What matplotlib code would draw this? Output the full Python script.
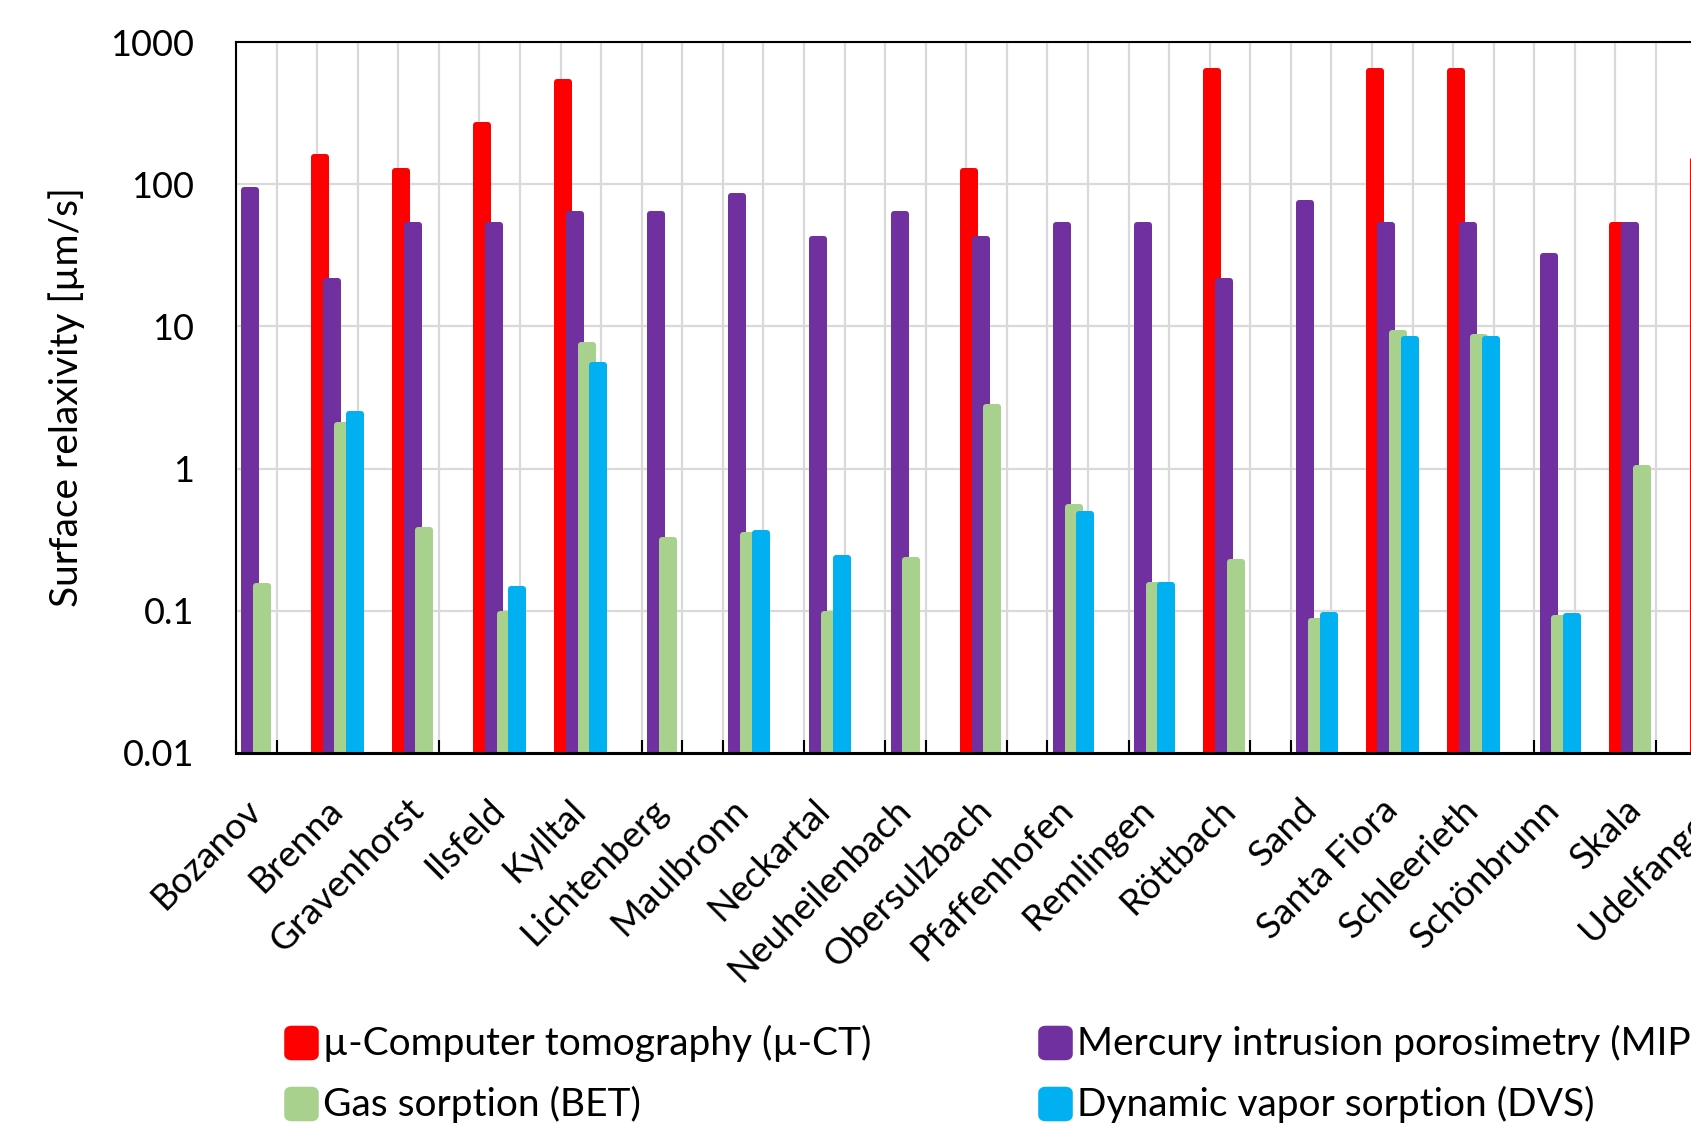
import numpy as np
import matplotlib
matplotlib.use("Agg")
import matplotlib.pyplot as plt
from matplotlib.patches import FancyBboxPatch
from matplotlib.ticker import FixedLocator, NullLocator

plt.rcParams['font.family'] = ['Lato', 'DejaVu Sans']

nan = np.nan
categories = ["Bozanov", "Brenna", "Gravenhorst", "Ilsfeld", "Kylltal", "Lichtenberg",
              "Maulbronn", "Neckartal", "Neuheilenbach", "Obersulzbach", "Pfaffenhofen",
              "Remlingen", "Röttbach", "Sand", "Santa Fiora", "Schleerieth", "Schönbrunn",
              "Skala", "Udelfangen"]
mu_ct = [nan, 163, 131, 274, 549, nan, nan, nan, nan, 130, nan, nan, 660, nan, 660, 660, nan, 54, 155]
mip   = [96, 22, 54, 54, 65, 65, 87, 43, 65, 43, 54, 54, 22, 77, 54, 54, 33, 54, nan]
bet   = [0.157, 2.14, 0.39, 0.099, 7.8, 0.33, 0.36, 0.10, 0.24, 2.85, 0.56, 0.16, 0.23, 0.089, 9.4, 8.8, 0.093, 1.06, nan]
dvs   = [nan, 2.55, nan, 0.15, 5.6, nan, 0.37, 0.245, nan, nan, 0.50, 0.16, nan, 0.098, 8.6, 8.5, 0.097, nan, nan]

series = [mu_ct, mip, bet, dvs]
names = ["µ-Computer tomography (µ-CT)", "Mercury intrusion porosimetry (MIP)",
         "Gas sorption (BET)", "Dynamic vapor sorption (DVS)"]
colors = ["#ff0000", "#7030a0", "#a9d18e", "#00b0f0"]
ytick_vals = [0.01, 0.1, 1, 10, 100, 1000]
ytick_labels = ["0.01", "0.1", "1", "10", "100", "1000"]

W, H = 1691, 1130
fig = plt.figure(figsize=(W / 100, H / 100), dpi=100)
px_per_cat = 81.14
left_px, top_px, bot_px = 236, 42, 753
ncat_span = 19.0
ax = fig.add_axes([left_px / W, 1 - bot_px / H, ncat_span * px_per_cat / W, (bot_px - top_px) / H])
ax.set_yscale('log')
ax.set_ylim(0.01, 1000)
ax.set_xlim(-0.25, -0.25 + ncat_span)

x = np.arange(len(categories))
offsets = [-0.216, -0.072, 0.072, 0.216]
edge_px = 6
face_w = (18 - edge_px) / px_per_cat
# the rounded edge line adds edge_px/2 above the face; shrink face so outer top sits at value
px_per_decade = (bot_px - top_px) / 5.0
top_factor = 10 ** (-(edge_px / 2) / px_per_decade)
for vals, off, col in zip(series, offsets, colors):
    v = np.array(vals, dtype=float)
    ax.bar(x + off, v * top_factor - 0.01, bottom=0.01, width=face_w, color=col, edgecolor=col,
           linewidth=edge_px * 0.72, joinstyle='round', zorder=3)

# axes styling
ax.set_yticks(ytick_vals)
ax.set_yticklabels(ytick_labels)
ax.yaxis.set_minor_locator(NullLocator())
ax.tick_params(axis='y', which='major', length=0, pad=30, labelsize=26)
ax.set_xticks(x)
ax.set_xticklabels(categories, rotation=45, ha='right', va='center', rotation_mode='anchor')
ax.tick_params(axis='x', which='major', length=0, pad=37, labelsize=26.5)
ax.xaxis.set_minor_locator(FixedLocator(np.arange(-0.25, 19.0, 0.5)))
ax.tick_params(axis='x', which='minor', direction='in', length=9.5, width=1.5, color='black')
ax.grid(True, axis='y', which='major', color='#d9d9d9', linewidth=1.6, zorder=0)
ax.grid(True, axis='x', which='minor', color='#d9d9d9', linewidth=1.6, zorder=0)
ax.set_axisbelow(True)
for s in ['left', 'top']:
    ax.spines[s].set_linewidth(1.5)
ax.spines['bottom'].set_linewidth(2.2)
ax.spines['right'].set_visible(False)
for sp in ax.spines.values():
    sp.set_zorder(5)

ax.set_ylabel("Surface relaxivity [µm/s]", fontsize=28, va='center')
ax.yaxis.set_label_coords((67 - left_px) / (ncat_span * px_per_cat), 0.5)

# legend
leg_items = [(284, 1043, 0), (1038, 1043, 1), (284, 1104, 2), (1038, 1104, 3)]
for lx, ly, k in leg_items:
    sq = 35
    p = FancyBboxPatch(((lx + 3) / W, 1 - (ly + sq / 2 - 3) / H), (sq - 6) / W, (sq - 6) / H,
                       boxstyle="round,pad=0.0,rounding_size=0.003",
                       transform=fig.transFigure, facecolor=colors[k], edgecolor=colors[k],
                       linewidth=4, joinstyle='round')
    fig.patches.append(p)
    fig.text((lx + sq + 4) / W, 1 - ly / H, names[k], fontsize=28, va='center', ha='left')

fig.savefig("out.png", dpi=100)
